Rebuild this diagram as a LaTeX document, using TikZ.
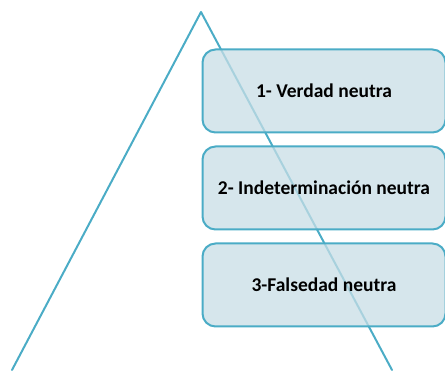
\documentclass[tikz,border=0pt]{standalone}
\usepackage{fontspec}
\setmainfont{Carlito}
\usetikzlibrary{positioning}
\definecolor{linea}{RGB}{75,172,198}
\definecolor{relleno}{RGB}{200,222,230}
\tikzset{
  nivel/.style={draw=linea,line width=2pt,fill=relleno,fill opacity=0.75,text opacity=1,
    rounded corners=13pt,minimum width=243pt,minimum height=83pt,inner sep=0pt,
    font=\fontsize{19.5}{22}\selectfont\bfseries},
}
\begin{document}
\begin{tikzpicture}[x=1pt,y=1pt,line join=round,line cap=round]
	\useasboundingbox (0,0) rectangle (445,370);
	\coordinate (cima) at (201,358);
	\coordinate (izq) at (12,0);
	\coordinate (der) at (392,0);
	\draw[linea,line width=2pt] (izq)--(cima)--(der);
	\node[nivel] (verdad) at (324,279) {1- Verdad neutra};
	\node[nivel,below=12pt of verdad] (indet) {2- Indeterminación neutra};
	\node[nivel,below=12pt of indet] (falsedad) {3-Falsedad neutra};
\end{tikzpicture}
\end{document}
